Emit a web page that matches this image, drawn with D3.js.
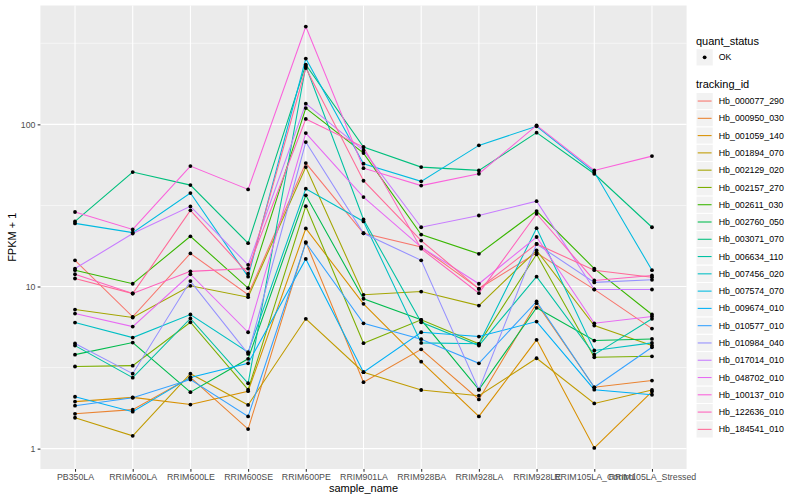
<!DOCTYPE html>
<html>
<head>
<meta charset="utf-8">
<script src="https://cdn.jsdelivr.net/npm/d3@7"></script>
<style>
  body { margin: 0; background: #fff; }
  text { font-family: "Liberation Sans", Arial, sans-serif; }
</style>
</head>
<body>
<svg id="chart" width="800" height="500"></svg>
<script>
// sample names (x axis)
var samples = ["PB350LA", "RRIM600LA", "RRIM600LE", "RRIM600SE", "RRIM600PE", "RRIM901LA",
    "RRIM928BA", "RRIM928LA", "RRIM928LE", "RRIM105LA_Control", "RRIM105LA_Stressed"];

// FPKM + 1, one array per tracking_id, same order as samples
var hb_000077_290 = [14.5, 6.5, 16, 8.9, 57.7, 21.3, 17.5, 9.7, 16.1, 9.6, 5.5];
var hb_000950_030 = [1.64, 1.74, 2.75, 1.32, 18.8, 2.57, 4.1, 2.01, 7.89, 2.39, 2.63];
var hb_001059_140 = [1.95, 2.07, 1.87, 2.26, 22.8, 7.82, 3.44, 1.58, 4.69, 1.01, 2.25];
var hb_001894_070 = [1.55, 1.2, 2.9, 1.86, 6.32, 2.96, 2.3, 2.12, 3.61, 1.9, 2.3];
var hb_002129_020 = [7.21, 6.44, 10.1, 8.59, 54.5, 8.89, 9.31, 7.63, 16.7, 5.74, 4.32];
var hb_002157_270 = [3.21, 3.25, 6.02, 2.31, 31.3, 4.47, 6.23, 4.43, 15.8, 3.66, 3.71];
var hb_002611_030 = [12.6, 10.4, 20.4, 9.77, 126, 66.5, 20.9, 15.9, 29.2, 12.9, 6.72];
var hb_002760_050 = [3.8, 4.51, 2.23, 3.58, 36.5, 8.4, 6.23, 2.31, 7.39, 4.64, 4.75];
var hb_003071_070 = [25.2, 50.8, 42.2, 18.5, 233.6, 72.4, 54.5, 52, 88.9, 49.6, 23.2];
var hb_006634_110 = [4.32, 2.74, 6.35, 2.53, 229, 25.9, 6.02, 4.32, 11.5, 3.8, 6.32];
var hb_007456_020 = [5.99, 4.84, 6.72, 3.93, 40.1, 25.2, 4.49, 4.43, 22.9, 4.03, 4.49];
var hb_007574_070 = [24.5, 21.5, 37.7, 11.5, 254.6, 57.2, 44.5, 74.2, 97.2, 50.8, 12.6];
var hb_009674_010 = [2.09, 1.69, 2.75, 3.36, 14.8, 2.96, 5.22, 4.91, 6.08, 2.31, 2.15];
var hb_010577_010 = [1.84, 2.06, 2.67, 1.58, 18.6, 5.93, 4.73, 3.36, 8.08, 2.39, 4.22];
var hb_010984_040 = [4.45, 2.9, 10.8, 3.84, 77.8, 21.3, 14.5, 2.31, 18.3, 10.6, 11];
var hb_017014_010 = [12.9, 21.2, 31.2, 13.6, 134.2, 69.1, 23.2, 27.4, 33.6, 9.58, 9.58];
var hb_048702_010 = [6.81, 5.66, 11.9, 5.22, 88.4, 35.6, 17.5, 10.4, 20.2, 5.93, 6.53];
var hb_100137_010 = [28.8, 22.5, 55.3, 39.7, 401, 53.7, 41.9, 49.6, 98.6, 52, 63.7];
var hb_122636_010 = [11.9, 9.05, 12.4, 12.9, 108, 72.4, 17.1, 9.1, 28.1, 10.9, 11.7];
var hb_184541_010 = [11.2, 9.05, 29.5, 12, 222.6, 44.9, 19.2, 9.68, 18.3, 12.6, 11.4];

var trackingIds = ["Hb_000077_290", "Hb_000950_030", "Hb_001059_140", "Hb_001894_070", "Hb_002129_020",
    "Hb_002157_270", "Hb_002611_030", "Hb_002760_050", "Hb_003071_070", "Hb_006634_110",
    "Hb_007456_020", "Hb_007574_070", "Hb_009674_010", "Hb_010577_010", "Hb_010984_040",
    "Hb_017014_010", "Hb_048702_010", "Hb_100137_010", "Hb_122636_010", "Hb_184541_010"];
var seriesValues = [hb_000077_290, hb_000950_030, hb_001059_140, hb_001894_070, hb_002129_020,
    hb_002157_270, hb_002611_030, hb_002760_050, hb_003071_070, hb_006634_110,
    hb_007456_020, hb_007574_070, hb_009674_010, hb_010577_010, hb_010984_040,
    hb_017014_010, hb_048702_010, hb_100137_010, hb_122636_010, hb_184541_010];
var yTicks = [1, 10, 100];
var yMinor = [Math.sqrt(10), Math.sqrt(1000), Math.sqrt(100000)];
var quantStatus = ["OK"];

// R style hcl() (polar Luv) -> hex, like ggplot's hue palette
function hclColor(h, c, l) {
    var Xn = 95.047, Yn = 100, Zn = 108.883;
    var hr = h * Math.PI / 180, u = c * Math.cos(hr), v = c * Math.sin(hr);
    var Y = l > 8 ? Yn * Math.pow((l + 16) / 116, 3) : Yn * l / 903.3;
    var den = Xn + 15 * Yn + 3 * Zn, un = 4 * Xn / den, vn = 9 * Yn / den;
    var up = u / (13 * l) + un, vp = v / (13 * l) + vn;
    var X = 9 * Y * up / (4 * vp), Z = -X / 3 - 5 * Y + 3 * Y / vp;
    X /= 100; Y /= 100; Z /= 100;
    var rgb = [3.240479 * X - 1.537150 * Y - 0.498535 * Z,
        -0.969256 * X + 1.875992 * Y + 0.041556 * Z,
        0.055648 * X - 0.204043 * Y + 1.057311 * Z];
    return d3.rgb.apply(null, rgb.map(function (t) {
        t = t <= 0.0031308 ? 12.92 * t : 1.055 * Math.pow(t, 1 / 2.4) - 0.055;
        return Math.round(255 * Math.max(0, Math.min(1, t)));
    })).formatHex();
}
var colors = trackingIds.map(function (d, i) { return hclColor(15 + 360 / 20 * i, 100, 65); });

var svg = d3.select("#chart");
var panel = {left: 40.4, right: 686.6, top: 5.5, bottom: 469};

var allVals = d3.merge(seriesValues);
var lmin = Math.log10(d3.min(allVals)), lmax = Math.log10(d3.max(allVals)), pad = (lmax - lmin) * 0.05;
var y = d3.scaleLog().domain([Math.pow(10, lmin - pad), Math.pow(10, lmax + pad)]).range([panel.bottom, panel.top]);
var x = d3.scalePoint().domain(samples).range([panel.left, panel.right]).padding(0.6);

svg.append("rect").attr("x", panel.left).attr("y", panel.top)
    .attr("width", panel.right - panel.left).attr("height", panel.bottom - panel.top)
    .attr("fill", "#EBEBEB");

// grid
svg.append("g").selectAll("line").data(yMinor).enter().append("line")
    .attr("x1", panel.left).attr("x2", panel.right)
    .attr("y1", function (d) { return y(d); }).attr("y2", function (d) { return y(d); })
    .attr("stroke", "#fff").attr("stroke-width", 0.55);
svg.append("g").selectAll("line").data(yTicks).enter().append("line")
    .attr("x1", panel.left).attr("x2", panel.right)
    .attr("y1", function (d) { return y(d); }).attr("y2", function (d) { return y(d); })
    .attr("stroke", "#fff").attr("stroke-width", 1.07);
svg.append("g").selectAll("line").data(samples).enter().append("line")
    .attr("x1", function (d) { return x(d); }).attr("x2", function (d) { return x(d); })
    .attr("y1", panel.top).attr("y2", panel.bottom)
    .attr("stroke", "#fff").attr("stroke-width", 1.07);

// lines
var line = d3.line()
    .x(function (d, i) { return x(samples[i]); })
    .y(function (d) { return y(d); });
svg.append("g").selectAll("path").data(seriesValues).enter().append("path")
    .attr("d", line)
    .attr("fill", "none")
    .attr("stroke", function (d, i) { return colors[i]; })
    .attr("stroke-width", 1.07);

// points
var pts = [];
seriesValues.forEach(function (vals) {
    vals.forEach(function (v, i) { pts.push({s: samples[i], v: v}); });
});
svg.append("g").selectAll("circle").data(pts).enter().append("circle")
    .attr("cx", function (d) { return x(d.s); })
    .attr("cy", function (d) { return y(d.v); })
    .attr("r", 1.9).attr("fill", "#000");

// axes
var yAxis = svg.append("g").attr("transform", "translate(" + panel.left + ",0)")
    .call(d3.axisLeft(y).tickValues(yTicks).tickFormat(d3.format("d")).tickSize(2.75).tickPadding(2.2));
var xAxis = svg.append("g").attr("transform", "translate(0," + panel.bottom + ")")
    .call(d3.axisBottom(x).tickSize(2.75).tickPadding(2.2));
[xAxis, yAxis].forEach(function (a) {
    a.select(".domain").remove();
    a.selectAll(".tick line").attr("stroke", "#333333").attr("stroke-width", 1.07);
    a.selectAll(".tick text").attr("fill", "#4D4D4D").style("font-size", "8.8px")
        .style("font-family", "'Liberation Sans', Arial, sans-serif");
});

svg.append("text").attr("x", (panel.left + panel.right) / 2).attr("y", 492)
    .attr("text-anchor", "middle").style("font-size", "11px").text("sample_name");
svg.append("text").attr("transform", "translate(16," + ((panel.top + panel.bottom) / 2) + ") rotate(-90)")
    .attr("text-anchor", "middle").style("font-size", "11px").text("FPKM + 1");

// legends
var lx = 696, key = 17.28;
svg.append("text").attr("x", lx).attr("y", 44.5).style("font-size", "11px").text("quant_status");
var qs = svg.append("g").selectAll("g").data(quantStatus).enter().append("g")
    .attr("transform", function (d, i) { return "translate(" + lx + "," + (48.7 + i * key) + ")"; });
qs.append("rect").attr("width", key).attr("height", key).attr("fill", "#F2F2F2").attr("stroke", "#fff");
qs.append("circle").attr("cx", key / 2).attr("cy", key / 2).attr("r", 1.9).attr("fill", "#000");
qs.append("text").attr("x", key + 5.5).attr("y", key / 2 + 3.1).style("font-size", "8.8px").text(function (d) { return d; });

svg.append("text").attr("x", lx).attr("y", 88).style("font-size", "11px").text("tracking_id");
var tk = svg.append("g").selectAll("g").data(trackingIds).enter().append("g")
    .attr("transform", function (d, i) { return "translate(" + lx + "," + (92.4 + i * key) + ")"; });
tk.append("rect").attr("width", key).attr("height", key).attr("fill", "#F2F2F2").attr("stroke", "#fff");
tk.append("line").attr("x1", 1.7).attr("x2", key - 1.7).attr("y1", key / 2).attr("y2", key / 2)
    .attr("stroke", function (d, i) { return colors[i]; }).attr("stroke-width", 1.07);
tk.append("text").attr("x", key + 5.5).attr("y", key / 2 + 3.1).style("font-size", "8.8px").text(function (d) { return d; });
</script>
</body>
</html>
